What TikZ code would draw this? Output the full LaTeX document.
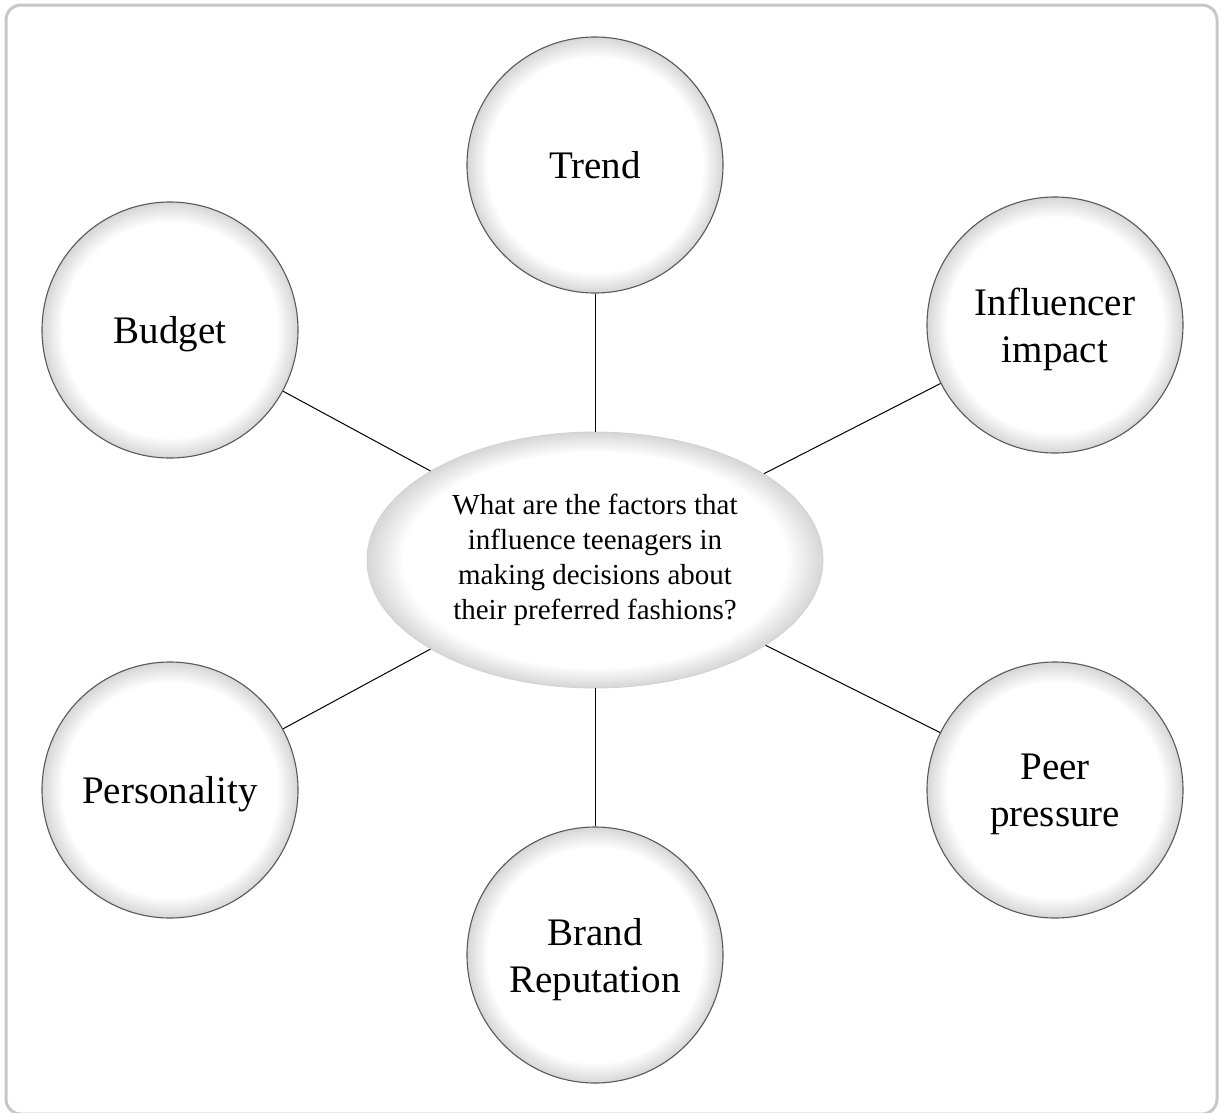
\documentclass[tikz,border=0pt]{standalone}
\usepackage{fontspec}
\setmainfont{Liberation Serif}
\usetikzlibrary{shapes.geometric}
\pgfdeclareradialshading{rim}{\pgfpoint{0bp}{0bp}}{color(0bp)=(white); color(21bp)=(white); color(25bp)=(black!16); color(50bp)=(black!16)}
\begin{document}
\begin{tikzpicture}[x=1pt, y=-1pt,
  factor/.style={circle, draw=black!65, line width=1.1pt, shading=rim, minimum size=256pt, inner sep=0pt, text depth=0pt, align=center, font=\fontsize{39}{47}\selectfont},
  question/.style={ellipse, draw=black!18, line width=0.8pt, shading=rim, minimum width=456pt, minimum height=256pt, inner sep=0pt, align=center, font=\fontsize{29}{35}\selectfont}]
  \useasboundingbox (0,0) rectangle (1223,1112);
  \draw[line width=3pt, draw=black!22, rounded corners=15pt] (6,5) rectangle (1217,1114);
  \node[question] (q) at (595,560) {What are the factors that\\influence teenagers in\\making decisions about\\their preferred fashions?};
  \foreach \name/\x/\y/\txt in {
    trend/595/165/Trend, budget/170/330/Budget,
    influencer/1055/325/{Influencer\\impact}, personality/170/790/Personality,
    peer/1055/790/{Peer\\pressure}, brand/595/955/{Brand\\Reputation}} {
    \node[factor] (\name) at (\x,\y) {\txt};
    \draw[line width=1pt] (q) -- (\name);
  }
\end{tikzpicture}
\end{document}
